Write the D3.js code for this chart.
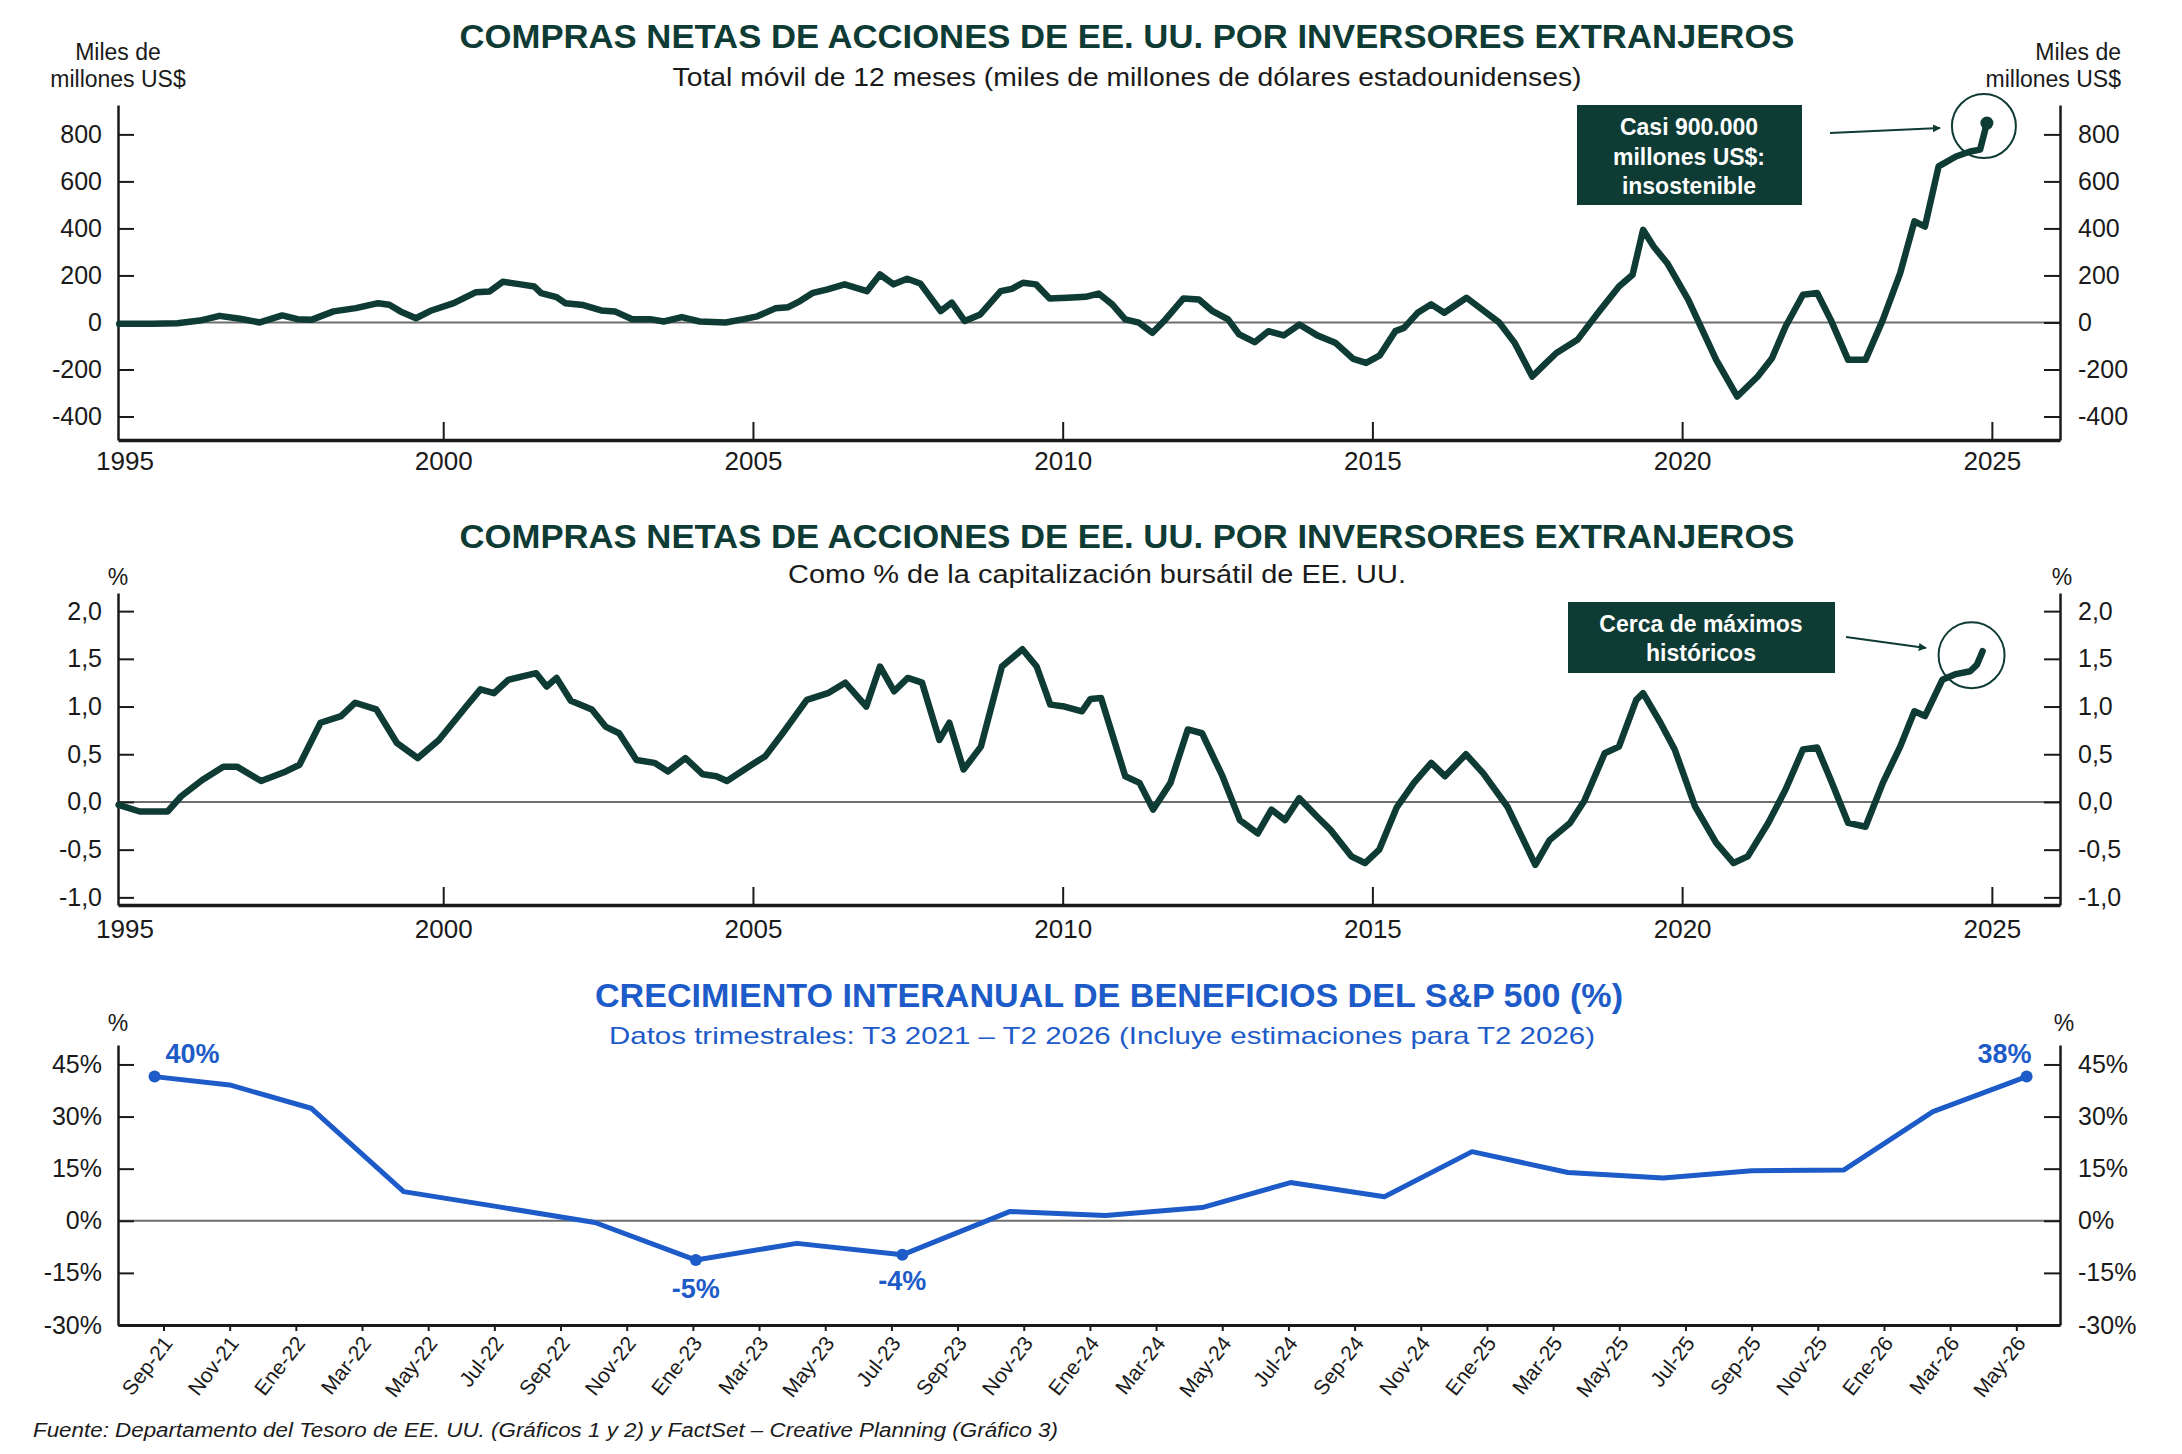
<!DOCTYPE html>
<html>
<head>
<meta charset="utf-8">
<script src="https://cdn.jsdelivr.net/npm/d3@7"></script>
<style>
  html, body { margin: 0; padding: 0; background: #ffffff; }
  svg { display: block; font-family: "Liberation Sans", Arial, Helvetica, sans-serif; }
</style>
</head>
<body>
<div id="chart"></div>
<script>
// Chart 1: net purchases, 12-month rolling total (bn US$)
const flowYears = [1994.77, 1995.3, 1995.71, 1996.07, 1996.39, 1996.72, 1997.04, 1997.4, 1997.65, 1997.87,
  1998.23, 1998.59, 1998.95, 1999.13, 1999.31, 1999.56, 1999.81, 2000.17, 2000.53, 2000.75,
  2000.96, 2001.25, 2001.47, 2001.58, 2001.83, 2001.97, 2002.26, 2002.55, 2002.77, 2003.05,
  2003.34, 2003.56, 2003.85, 2004.14, 2004.56, 2004.85, 2005.07, 2005.36, 2005.57, 2005.76,
  2005.97, 2006.19, 2006.48, 2006.84, 2007.05, 2007.27, 2007.49, 2007.7, 2008.03, 2008.21,
  2008.42, 2008.67, 2009.0, 2009.18, 2009.36, 2009.57, 2009.79, 2010.08, 2010.37, 2010.58,
  2010.8, 2011.01, 2011.23, 2011.45, 2011.66, 2011.95, 2012.2, 2012.42, 2012.67, 2012.85,
  2013.1, 2013.32, 2013.57, 2013.82, 2014.11, 2014.4, 2014.69, 2014.9, 2015.12, 2015.37,
  2015.51, 2015.73, 2015.95, 2016.16, 2016.52, 2016.77, 2017.05, 2017.3, 2017.58, 2017.8,
  2017.97, 2018.31, 2018.64, 2018.98, 2019.2, 2019.37, 2019.54, 2019.76, 2020.1, 2020.55,
  2020.89, 2021.22, 2021.45, 2021.67, 2021.95, 2022.18, 2022.4, 2022.68, 2022.96, 2023.24,
  2023.52, 2023.75, 2023.92, 2024.14, 2024.42, 2024.65, 2024.81, 2024.92];
const flowValues = [-6, -5, -3, 8, 28, 16, 0, 30, 14, 11,
  47, 61, 82, 75, 47, 18, 51, 82, 129, 132,
  173, 162, 153, 125, 108, 82, 74, 51, 47, 14,
  14, 4, 23, 4, 0, 14, 26, 60, 65, 91,
  126, 140, 162, 133, 204, 162, 186, 166, 48, 84,
  6, 34, 133, 143, 169, 162, 102, 105, 109, 123,
  77, 13, -1, -44, 13, 102, 98, 48, 13, -51,
  -84, -37, -55, -9, -55, -86, -155, -172, -140, -37,
  -23, 41, 77, 41, 105, 55, -1, -88, -230, -173,
  -130, -74, 40, 153, 203, 394, 323, 252, 96, -159,
  -315, -230, -152, -17, 118, 125, 11, -159, -159, 11,
  210, 430, 408, 664, 706, 727, 735, 848];
const flowTicks = [-400, -200, 0, 200, 400, 600, 800];

// Chart 2: net purchases as % of US market cap
const pctYears = [1994.76, 1995.1, 1995.55, 1995.77, 1996.11, 1996.45, 1996.67, 1997.06, 1997.46, 1997.68,
  1998.02, 1998.35, 1998.58, 1998.92, 1999.25, 1999.59, 1999.93, 2000.37, 2000.6, 2000.82,
  2001.05, 2001.5, 2001.67, 2001.83, 2002.06, 2002.4, 2002.62, 2002.84, 2003.12, 2003.41,
  2003.63, 2003.91, 2004.19, 2004.41, 2004.58, 2004.98, 2005.2, 2005.48, 2005.87, 2006.21,
  2006.49, 2006.83, 2007.05, 2007.28, 2007.5, 2007.73, 2008.01, 2008.17, 2008.4, 2008.68,
  2009.02, 2009.35, 2009.58, 2009.8, 2010.03, 2010.31, 2010.45, 2010.62, 2011.01, 2011.24,
  2011.46, 2011.74, 2012.02, 2012.25, 2012.58, 2012.86, 2013.15, 2013.37, 2013.59, 2013.82,
  2014.1, 2014.32, 2014.66, 2014.88, 2015.11, 2015.39, 2015.67, 2015.95, 2016.17, 2016.51,
  2016.79, 2017.18, 2017.41, 2017.63, 2017.86, 2018.19, 2018.42, 2018.75, 2018.98, 2019.26,
  2019.37, 2019.65, 2019.88, 2020.21, 2020.55, 2020.83, 2021.06, 2021.39, 2021.67, 2021.95,
  2022.18, 2022.4, 2022.68, 2022.96, 2023.24, 2023.52, 2023.75, 2023.92, 2024.2, 2024.42,
  2024.65, 2024.76, 2024.85];
const pctValues = [-0.03, -0.1, -0.1, 0.06, 0.23, 0.37, 0.37, 0.22, 0.32, 0.39,
  0.83, 0.9, 1.04, 0.97, 0.62, 0.46, 0.65, 1.0, 1.18, 1.14,
  1.28, 1.35, 1.21, 1.3, 1.06, 0.97, 0.79, 0.72, 0.44, 0.41,
  0.32, 0.46, 0.29, 0.27, 0.22, 0.39, 0.48, 0.72, 1.07, 1.14,
  1.25, 1.0, 1.42, 1.16, 1.3, 1.25, 0.65, 0.83, 0.34, 0.58,
  1.42, 1.6, 1.42, 1.02, 1.0, 0.95, 1.08, 1.09, 0.27, 0.2,
  -0.08, 0.2, 0.76, 0.72, 0.27, -0.19, -0.33, -0.08, -0.19, 0.04,
  -0.15, -0.29, -0.57, -0.64, -0.5, -0.06, 0.2, 0.41, 0.27, 0.5,
  0.3, -0.05, -0.36, -0.66, -0.4, -0.22, 0.01, 0.51, 0.58, 1.07,
  1.14, 0.83, 0.55, -0.05, -0.43, -0.64, -0.57, -0.22, 0.13, 0.55,
  0.57, 0.23, -0.22, -0.26, 0.2, 0.58, 0.95, 0.9, 1.28, 1.34,
  1.37, 1.44, 1.58];
const pctTicks = [-1.0, -0.5, 0, 0.5, 1.0, 1.5, 2.0];

const yearTicks = [1995, 2000, 2005, 2010, 2015, 2020, 2025];

// Chart 3: S&P 500 YoY earnings growth (months after Sep-21)
const epsMonths = [-0.27, 2.0, 4.46, 7.26, 10.14, 13.04, 16.09, 19.14, 22.33, 25.59,
  28.47, 31.39, 34.06, 36.9, 39.55, 42.45, 45.32, 48.0, 50.78, 53.48, 56.31];
const epsValues = [41.5, 39.1, 32.4, 8.4, 4.0, -0.5, -11.3, -6.5, -9.8, 2.7,
  1.5, 3.8, 11.0, 6.9, 19.9, 13.9, 12.3, 14.4, 14.6, 31.4, 41.5];
const epsLabels = [{ i: 0, text: '40%' }, { i: 6, text: '-5%' }, { i: 8, text: '-4%' }, { i: 20, text: '38%' }];
const epsTicks = [-30, -15, 0, 15, 30, 45];
const monthLabels = ['Sep-21', 'Nov-21', 'Ene-22', 'Mar-22', 'May-22', 'Jul-22', 'Sep-22', 'Nov-22',
  'Ene-23', 'Mar-23', 'May-23', 'Jul-23', 'Sep-23', 'Nov-23', 'Ene-24', 'Mar-24', 'May-24',
  'Jul-24', 'Sep-24', 'Nov-24', 'Ene-25', 'Mar-25', 'May-25', 'Jul-25', 'Sep-25', 'Nov-25',
  'Ene-26', 'Mar-26', 'May-26'];

const W = 2182, H = 1454;
const GREEN = '#0e3b34';
const BLUE = '#1d5bc8';
const INK = '#1a1a1a';
const left = 118, right = 2060;

const svg = d3.select('#chart').append('svg')
  .attr('width', W)
  .attr('height', H);

svg.append('defs').append('marker')
  .attr('id', 'arrow')
  .attr('viewBox', '0 0 10 10')
  .attr('refX', 9).attr('refY', 5)
  .attr('markerWidth', 8).attr('markerHeight', 8)
  .attr('markerUnits', 'userSpaceOnUse')
  .attr('orient', 'auto')
  .append('path')
  .attr('d', 'M0,0 L10,5 L0,10 z')
  .attr('fill', GREEN);

// helper for centred titles squeezed to the measured width
function title(txt, x, y, size, weight, color, width) {
  const t = svg.append('text')
    .attr('x', x).attr('y', y)
    .attr('text-anchor', 'middle')
    .style('font-size', size + 'px')
    .style('font-weight', weight)
    .style('fill', color)
    .text(txt);
  if (width) t.attr('textLength', width).attr('lengthAdjust', 'spacingAndGlyphs');
  return t;
}

function styleAxis(g, size) {
  g.selectAll('path.domain').attr('stroke', INK).attr('stroke-width', 2.5);
  g.selectAll('.tick line').attr('stroke', INK).attr('stroke-width', 2);
  g.selectAll('.tick text')
    .style('font-size', size + 'px')
    .style('fill', INK)
    .style('font-family', '"Liberation Sans", Arial, sans-serif');
}

// shared drawing of the two time-series panels
function seriesPanel(opt) {
  const x = d3.scaleLinear().domain([1994.75, 2026.1]).range([left, right]);
  const y = d3.scaleLinear().domain(opt.domain).range([opt.bottom, opt.top]);

  // zero line
  svg.append('line')
    .attr('x1', left).attr('x2', right)
    .attr('y1', y(0)).attr('y2', y(0))
    .attr('stroke', '#6e6e6e').attr('stroke-width', 2);

  const gl = svg.append('g').attr('transform', `translate(${left},0)`)
    .call(d3.axisLeft(y).tickValues(opt.ticks).tickSizeInner(-16).tickSizeOuter(0)
      .tickPadding(16).tickFormat(opt.fmt));
  styleAxis(gl, 25);
  const gr = svg.append('g').attr('transform', `translate(${right},0)`)
    .call(d3.axisRight(y).tickValues(opt.ticks).tickSizeInner(-16).tickSizeOuter(0)
      .tickPadding(18).tickFormat(opt.fmt));
  styleAxis(gr, 25);
  const gb = svg.append('g').attr('transform', `translate(0,${opt.bottom})`)
    .call(d3.axisBottom(x).tickValues(yearTicks).tickSizeInner(-18).tickSizeOuter(0)
      .tickPadding(opt.xPad).tickFormat(d => String(d)));
  styleAxis(gb, 26);
  gb.select('path.domain').attr('stroke-width', 3.5);
  const first = gb.selectAll('.tick').filter(d => d === 1995);
  first.select('line').remove();
  first.select('text').attr('x', -9);

  const pts = opt.years.map((yr, i) => [yr, opt.values[i]]);
  svg.append('path')
    .datum(pts)
    .attr('d', d3.line().x(d => x(d[0])).y(d => y(d[1])))
    .attr('fill', 'none')
    .attr('stroke', GREEN)
    .attr('stroke-width', 6.5)
    .attr('stroke-linejoin', 'round')
    .attr('stroke-linecap', 'round');

  return { x, y, last: pts[pts.length - 1] };
}

// ---------- Chart 1 ----------
title('COMPRAS NETAS DE ACCIONES DE EE. UU. POR INVERSORES EXTRANJEROS', 1127, 48, 34, 700, GREEN, 1335);
title('Total móvil de 12 meses (miles de millones de dólares estadounidenses)', 1127, 86, 25, 400, INK, 909);
[[left, 'Miles de', 60, 'middle'], [left, 'millones US$', 87, 'middle'],
 [2121, 'Miles de', 60, 'end'], [2121, 'millones US$', 87, 'end']]
  .forEach(d => {
    svg.append('text').attr('x', d[0]).attr('y', d[2]).attr('text-anchor', d[3])
      .style('font-size', '23px').style('fill', INK).text(d[1]);
  });

const p1 = seriesPanel({
  years: flowYears, values: flowValues, domain: [-500, 925], top: 105, bottom: 440,
  ticks: flowTicks, fmt: d => String(d), xPad: 12
});
svg.append('circle')
  .attr('cx', p1.x(p1.last[0])).attr('cy', p1.y(p1.last[1])).attr('r', 6.5).attr('fill', GREEN);
svg.append('circle')
  .attr('cx', p1.x(p1.last[0]) - 3).attr('cy', p1.y(p1.last[1]) + 3).attr('r', 32)
  .attr('fill', 'none').attr('stroke', GREEN).attr('stroke-width', 2);
svg.append('rect').attr('x', 1577).attr('y', 105).attr('width', 225).attr('height', 100).attr('fill', GREEN);
['Casi 900.000', 'millones US$:', 'insostenible'].forEach((t, i) => {
  svg.append('text').attr('x', 1689).attr('y', 135 + i * 29.6).attr('text-anchor', 'middle')
    .style('font-size', '23px').style('font-weight', 700).style('fill', '#ffffff').text(t);
});
svg.append('line').attr('x1', 1830).attr('y1', 133).attr('x2', 1940).attr('y2', 128)
  .attr('stroke', GREEN).attr('stroke-width', 2).attr('marker-end', 'url(#arrow)');

// ---------- Chart 2 ----------
title('COMPRAS NETAS DE ACCIONES DE EE. UU. POR INVERSORES EXTRANJEROS', 1127, 548, 34, 700, GREEN, 1335);
title('Como % de la capitalización bursátil de EE. UU.', 1097, 583, 25, 400, INK, 618);
[[left, '%'], [2062, '%']].forEach(d => {
  svg.append('text').attr('x', d[0]).attr('y', 585).attr('text-anchor', 'middle')
    .style('font-size', '23px').style('fill', INK).text(d[1]);
});
const fmtComma = d => d.toFixed(1).replace('.', ',');
const p2 = seriesPanel({
  years: pctYears, values: pctValues, domain: [-1.08, 2.19], top: 593, bottom: 905,
  ticks: pctTicks, fmt: fmtComma, xPad: 15
});
svg.append('circle')
  .attr('cx', p2.x(p2.last[0]) - 11).attr('cy', p2.y(p2.last[1]) + 4).attr('r', 33)
  .attr('fill', 'none').attr('stroke', GREEN).attr('stroke-width', 2);
svg.append('rect').attr('x', 1568).attr('y', 602).attr('width', 267).attr('height', 71).attr('fill', GREEN);
['Cerca de máximos', 'históricos'].forEach((t, i) => {
  svg.append('text').attr('x', 1701).attr('y', 632 + i * 29).attr('text-anchor', 'middle')
    .style('font-size', '23px').style('font-weight', 700).style('fill', '#ffffff').text(t);
});
svg.append('line').attr('x1', 1846).attr('y1', 637).attr('x2', 1926).attr('y2', 648)
  .attr('stroke', GREEN).attr('stroke-width', 2).attr('marker-end', 'url(#arrow)');

// ---------- Chart 3 ----------
title('CRECIMIENTO INTERANUAL DE BENEFICIOS DEL S&P 500 (%)', 1109, 1007, 33, 700, BLUE, 1028);
title('Datos trimestrales: T3 2021 – T2 2026 (Incluye estimaciones para T2 2026)', 1102, 1044, 24, 400, BLUE, 986);
[[left, '%'], [2064, '%']].forEach(d => {
  svg.append('text').attr('x', d[0]).attr('y', 1031).attr('text-anchor', 'middle')
    .style('font-size', '23px').style('fill', INK).text(d[1]);
});

const x3 = d3.scaleLinear().domain([-1.375, 57.32]).range([left, right]);
const y3 = d3.scaleLinear().domain([-30, 50.6]).range([1325, 1045]);

svg.append('line')
  .attr('x1', left).attr('x2', right)
  .attr('y1', y3(0)).attr('y2', y3(0))
  .attr('stroke', '#6e6e6e').attr('stroke-width', 2);

const g3l = svg.append('g').attr('transform', `translate(${left},0)`)
  .call(d3.axisLeft(y3).tickValues(epsTicks).tickSizeInner(-16).tickSizeOuter(0)
    .tickPadding(16).tickFormat(d => d + '%'));
styleAxis(g3l, 25);
const g3r = svg.append('g').attr('transform', `translate(${right},0)`)
  .call(d3.axisRight(y3).tickValues(epsTicks).tickSizeInner(-16).tickSizeOuter(0)
    .tickPadding(18).tickFormat(d => d + '%'));
styleAxis(g3r, 25);
const g3b = svg.append('g').attr('transform', `translate(0,${y3(-30)})`)
  .call(d3.axisBottom(x3).tickValues(d3.range(0, 57, 2)).tickSizeInner(6).tickSizeOuter(0)
    .tickPadding(8).tickFormat((d, i) => monthLabels[i]));
styleAxis(g3b, 21);
g3b.select('path.domain').attr('stroke-width', 3);
g3b.selectAll('.tick text')
  .attr('text-anchor', 'end')
  .attr('dy', '0.35em')
  .attr('transform', 'translate(4,14) rotate(-52)')
  .attr('x', 0).attr('y', 0);

const eps = epsMonths.map((m, i) => [m, epsValues[i]]);
svg.append('path')
  .datum(eps)
  .attr('d', d3.line().x(d => x3(d[0])).y(d => y3(d[1])))
  .attr('fill', 'none')
  .attr('stroke', BLUE)
  .attr('stroke-width', 5)
  .attr('stroke-linejoin', 'round');

svg.selectAll('.eps-dot')
  .data(epsLabels)
  .enter().append('circle')
  .attr('class', 'eps-dot')
  .attr('cx', d => x3(eps[d.i][0]))
  .attr('cy', d => y3(eps[d.i][1]))
  .attr('r', 6)
  .attr('fill', BLUE);

const labelOffset = { 0: [38, -14], 6: [0, 38], 8: [0, 35], 20: [-22, -14] };
svg.selectAll('.eps-label')
  .data(epsLabels)
  .enter().append('text')
  .attr('class', 'eps-label')
  .attr('x', d => x3(eps[d.i][0]) + labelOffset[d.i][0])
  .attr('y', d => y3(eps[d.i][1]) + labelOffset[d.i][1])
  .attr('text-anchor', 'middle')
  .style('font-size', '27px')
  .style('font-weight', 700)
  .style('fill', BLUE)
  .text(d => d.text);

// source note
svg.append('text')
  .attr('x', 33).attr('y', 1437)
  .attr('textLength', 1025).attr('lengthAdjust', 'spacingAndGlyphs')
  .style('font-size', '20px')
  .style('font-style', 'italic')
  .style('fill', INK)
  .text('Fuente: Departamento del Tesoro de EE. UU. (Gráficos 1 y 2) y FactSet – Creative Planning (Gráfico 3)');
</script>
</body>
</html>
